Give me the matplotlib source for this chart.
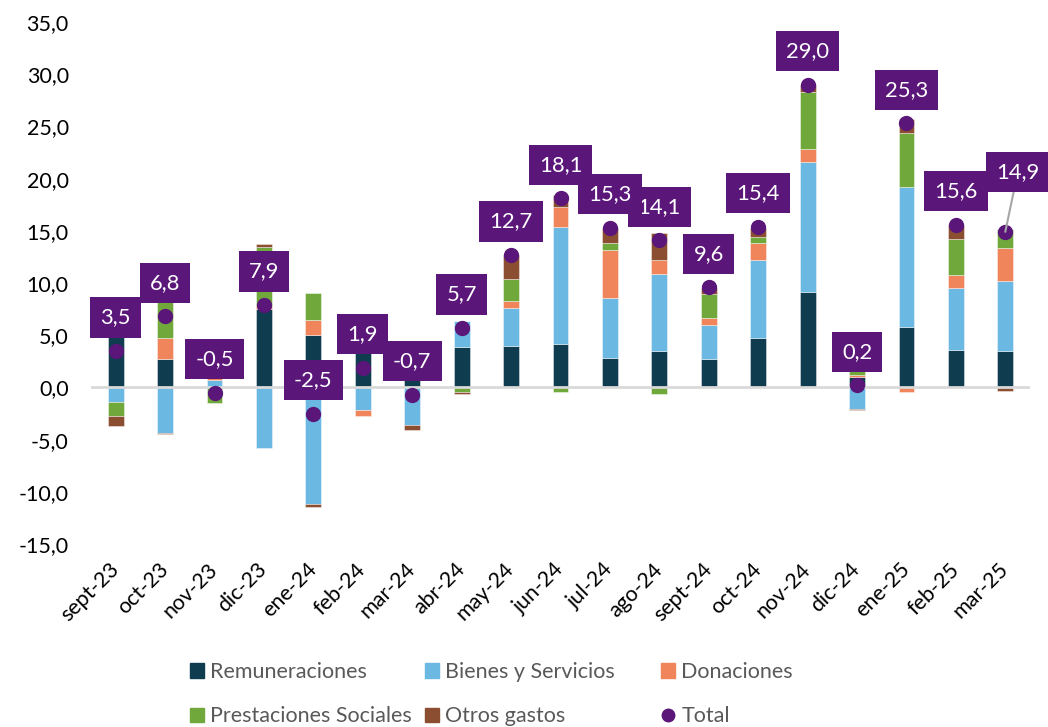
import matplotlib
matplotlib.use("Agg")
import matplotlib.pyplot as plt
import numpy as np
from matplotlib.patches import Patch
from matplotlib.lines import Line2D

plt.rcParams['font.family'] = ['Lato', 'DejaVu Sans']

months = ['sept-23', 'oct-23', 'nov-23', 'dic-23', 'ene-24', 'feb-24', 'mar-24',
          'abr-24', 'may-24', 'jun-24', 'jul-24', 'ago-24', 'sept-24', 'oct-24',
          'nov-24', 'dic-24', 'ene-25', 'feb-25', 'mar-25']
remuneraciones = [7.2, 2.7, 0.0, 7.55, 5.0, 4.6, 3.4, 3.9, 4.0, 4.2, 2.8, 3.5,
                  2.7, 4.7, 9.1, 1.0, 5.8, 3.55, 3.45]
bienes = [-1.4, -4.35, 0.7, -5.8, -11.2, -2.2, -3.6, 2.45, 3.6, 11.2, 5.8, 7.4,
          3.25, 7.55, 12.45, -2.05, 13.4, 6.0, 6.7]
donaciones = [0.0, 2.0, 0.3, 0.2, 1.45, -0.5, 0.0, 0.0, 0.65, 1.85, 4.55, 1.3,
              0.65, 1.6, 1.3, 0.15, -0.45, 1.2, 3.25]
prestaciones = [-1.3, 6.6, -1.5, 5.7, 2.6, 0.0, 0.0, -0.4, 2.15, -0.4, 0.7, -0.65,
                2.3, 0.55, 5.45, 1.25, 5.2, 3.45, 1.75]
otros = [-1.0, -0.15, 0.0, 0.25, -0.3, 0.0, -0.5, -0.25, 2.25, 1.2, 1.45, 2.55,
         0.65, 0.9, 0.7, -0.15, 1.3, 1.35, -0.3]
total = [3.5, 6.8, -0.5, 7.9, -2.5, 1.9, -0.7, 5.7, 12.7, 18.1, 15.3, 14.1,
         9.6, 15.4, 29.0, 0.2, 25.3, 15.6, 14.9]
yticks = [-15, -10, -5, 0, 5, 10, 15, 20, 25, 30, 35]

series = [
    ('Remuneraciones', remuneraciones, '#0F3C4F'),
    ('Bienes y Servicios', bienes, '#6BB8E3'),
    ('Donaciones', donaciones, '#F0845A'),
    ('Prestaciones Sociales', prestaciones, '#70A83C'),
    ('Otros gastos', otros, '#8C4E31'),
]
purple = '#5A1679'

fig = plt.figure(figsize=(10.48, 7.27), dpi=100)
ax = fig.add_axes([91 / 1048, 1 - 544 / 727, (1030 - 91) / 1048, (544 - 22) / 727])

x = np.arange(len(months))
pos_bottom = np.zeros(len(months))
neg_bottom = np.zeros(len(months))
for name, vals, col in series:
    v = np.array(vals, dtype=float)
    bottom = np.where(v >= 0, pos_bottom, neg_bottom)
    ax.bar(x, v, width=0.32, bottom=bottom, color=col, edgecolor=(1, 1, 1, 0.5),
           linewidth=0.6, zorder=2)
    pos_bottom = pos_bottom + np.where(v > 0, v, 0)
    neg_bottom = neg_bottom + np.where(v < 0, v, 0)

ax.axhline(0, color='#D9D9D9', linewidth=2, zorder=3)
ax.plot(x, total, linestyle='none', marker='o', markersize=10, color=purple, zorder=5)

lab_fs = 15.8
for i, t in enumerate(total):
    label = f"{t:.1f}".replace('.', ',')
    z = 6.5 if months[i] == 'jul-24' else 6
    if months[i] == 'mar-25':
        ax.annotate(label, (x[i], t), xytext=(9, 43), textcoords='offset points',
                    ha='center', va='center', color='white', fontsize=lab_fs,
                    bbox=dict(boxstyle='square,pad=0.46', fc=purple, ec='none'),
                    arrowprops=dict(arrowstyle='-', color='#A6A6A6', lw=1.5,
                                    shrinkA=0, shrinkB=0),
                    annotation_clip=False, zorder=z)
    else:
        ax.annotate(label, (x[i], t), xytext=(0, 24), textcoords='offset points',
                    ha='center', va='center', color='white', fontsize=lab_fs,
                    bbox=dict(boxstyle='square,pad=0.46', fc=purple, ec='none'),
                    annotation_clip=False, zorder=z)

ax.set_xlim(-0.5, len(months) - 0.5)
ax.set_ylim(-15, 35)
ax.set_yticks(yticks)
ax.set_yticklabels([f"{v:.1f}".replace('.', ',') for v in yticks], fontsize=15.5)
ax.set_xticks(x)
ax.set_xticklabels(months, fontsize=15.5, rotation=45, ha='right', va='center',
                   rotation_mode='anchor')
ax.tick_params(axis='y', length=0, pad=16)
ax.tick_params(axis='x', length=0, pad=16)
for s in ax.spines.values():
    s.set_visible(False)

fs = 15.5
cols = [
    [(Patch(color=series[0][2]), series[0][0]), (Patch(color=series[3][2]), series[3][0])],
    [(Patch(color=series[1][2]), series[1][0]), (Patch(color=series[4][2]), series[4][0])],
    [(Patch(color=series[2][2]), series[2][0]),
     (Line2D([], [], linestyle='none', marker='o', markersize=9, color=purple), 'Total')],
]
xs = [190, 425, 661]
for cx, entries in zip(xs, cols):
    leg = fig.legend([e[0] for e in entries], [e[1] for e in entries],
                     loc='upper left', bbox_to_anchor=(cx / 1048, 1 - 662 / 727),
                     frameon=False, fontsize=fs, handlelength=0.65, handleheight=0.65,
                     handletextpad=0.3, borderpad=0, borderaxespad=0, labelspacing=1.13,
                     labelcolor='#595959')

fig.savefig('out.png', dpi=100)
